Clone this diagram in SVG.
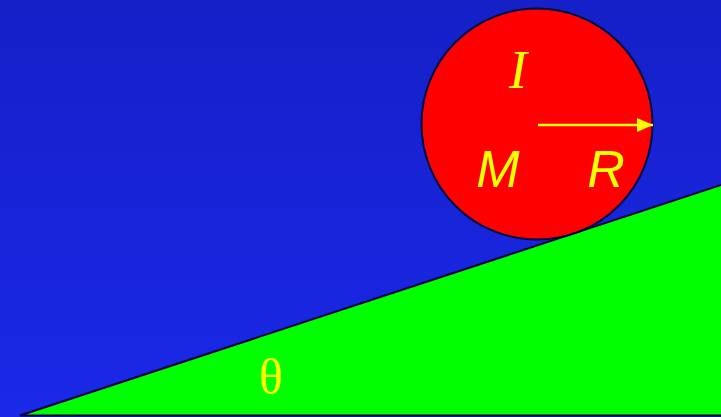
<svg xmlns="http://www.w3.org/2000/svg" width="721" height="417" viewBox="0 0 721 417">
<defs>
<linearGradient id="bg" x1="0" y1="0" x2="0" y2="1">
<stop offset="0" stop-color="#1520c8"/>
<stop offset="1" stop-color="#1a28e8"/>
</linearGradient>
<marker id="ah" markerWidth="16" markerHeight="14" refX="16" refY="7" orient="auto" markerUnits="userSpaceOnUse">
<path d="M0,0 L16,7 L0,14 Z" fill="#ffff00"/>
</marker>
<style>
.lbl{fill:#ffff00;font-style:italic}
.serif{font-family:"Liberation Serif",serif}
.sans{font-family:"Liberation Sans",sans-serif}
</style>
</defs>
<rect x="0" y="0" width="721" height="417" fill="url(#bg)"/>
<g id="incline">
<polygon points="20,415.5 730,182 730,415.5" fill="#00ff00" stroke="#000040" stroke-width="2"/>
<text class="serif" x="271" y="394" font-size="50" fill="#ffff00" text-anchor="middle">θ</text>
</g>
<g id="ball">
<circle cx="537" cy="124" r="115.5" fill="#ff0000" stroke="#000040" stroke-width="2"/>
<text class="lbl serif" x="518" y="88" font-size="54" text-anchor="middle">I</text>
<text class="lbl sans" x="498" y="187" font-size="52" text-anchor="middle">M</text>
<text class="lbl sans" x="606" y="187" font-size="52" text-anchor="middle">R</text>
</g>
<g id="connectors">
<line x1="538" y1="125" x2="653" y2="125" stroke="#ffff00" stroke-width="2.5" marker-end="url(#ah)"/>
</g>
</svg>
